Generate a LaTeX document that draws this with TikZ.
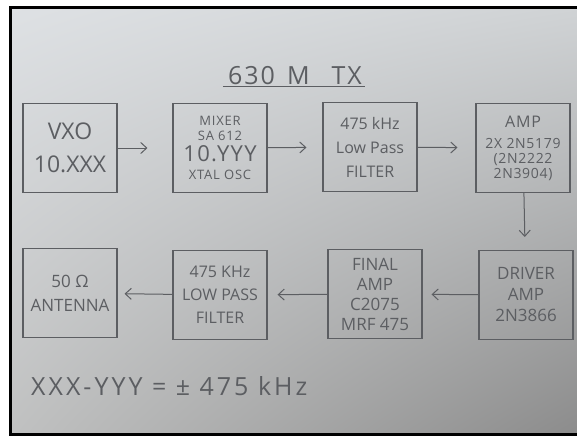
\documentclass[tikz,border=0pt]{standalone}
\usepackage{fontspec}
\setmainfont{Open Sans}
\usetikzlibrary{arrows.meta,positioning,shadings}
\definecolor{pencil}{RGB}{92,94,98}
\definecolor{paperul}{RGB}{222,225,228}
\definecolor{paperur}{RGB}{208,211,213}
\definecolor{paperll}{RGB}{192,193,193}
\definecolor{paperlr}{RGB}{140,140,140}
\tikzset{
  blockbox/.style={draw=pencil, line width=1.1pt, minimum width=94pt, minimum height=89pt, align=center, text=pencil, inner sep=1pt},
  sig/.style={-{Straight Barb[length=6pt,width=11pt]}, draw=pencil, line width=1pt},
  handtext/.style={text=pencil, inner sep=1pt}
}
\begin{document}
\begin{tikzpicture}[x=1pt,y=-1pt]
  \useasboundingbox (0,0) rectangle (577,437);
  \fill[white] (0,0) rectangle (577,437);
  %% paper
  \shade[upper left=paperul, upper right=paperur, lower left=paperll, lower right=paperlr] (10,7) rectangle (577,434);
  \draw[black, line width=3pt] (577,7) -- (10,7) -- (10,434) -- (577,434);

  %% title
  \node[handtext, font=\fontsize{25}{28}\selectfont\addfontfeature{LetterSpace=8}] (title) at (295,76) {630\hspace{12pt}M\hspace{22pt}TX};
  \draw[pencil, line width=1pt] ([xshift=-4pt]title.south west) -- ([xshift=2pt]title.south east);

  %% upper row
  \node[blockbox, font=\fontsize{23}{33}\selectfont] (vxo) at (70,148) {VXO\\10.XXX};
  \node[blockbox, font=\fontsize{13}{15}\selectfont\addfontfeature{LetterSpace=6}] (mixer) at (220,148) {MIXER\\SA 612\\[4pt]{\fontsize{22}{24}\selectfont 10.YYY}\\[3pt]XTAL OSC};
  \node[blockbox, font=\fontsize{16}{24}\selectfont] (lpfa) at (370,147) {475 kHz\\Low Pass\\FILTER};
  \node[blockbox, font=\fontsize{14}{15}\selectfont\addfontfeature{LetterSpace=5}] (amp) at (523,148) {{\fontsize{16}{18}\selectfont AMP}\\[6pt]2X 2N5179\\(2N2222\\2N3904)};

  %% lower row
  \node[blockbox, font=\fontsize{17}{24}\selectfont] (ant) at (70,293) {50 Ω\\ANTENNA};
  \node[blockbox, font=\fontsize{16}{23}\selectfont] (lpfb) at (220,295) {475 KHz\\LOW PASS\\FILTER};
  \node[blockbox, font=\fontsize{17}{20}\selectfont] (final) at (375,294) {FINAL\\AMP\\C2075\\MRF 475};
  \node[blockbox, font=\fontsize{17}{21}\selectfont] (driver) at (526,295) {DRIVER\\AMP\\2N3866};

  %% signal path
  \draw[sig, shorten >=25pt] (vxo) -- (mixer);
  \draw[sig, shorten >=16pt] (mixer) -- (lpfa);
  \draw[sig, shorten >=18pt] (lpfa) -- (amp);
  \draw[sig, shorten >=13pt] (amp) -- (driver);
  \draw[sig, shorten >=9pt] (driver) -- (final);
  \draw[sig, shorten >=10pt] (final) -- (lpfb);
  \draw[sig, shorten >=7pt] (lpfb) -- (ant);

  %% note
  \node[handtext, font=\fontsize{25}{28}\selectfont\addfontfeature{LetterSpace=12}, anchor=west] (note) at (30,386) {XXX-YYY = ± 475 kHz};
\end{tikzpicture}
\end{document}
